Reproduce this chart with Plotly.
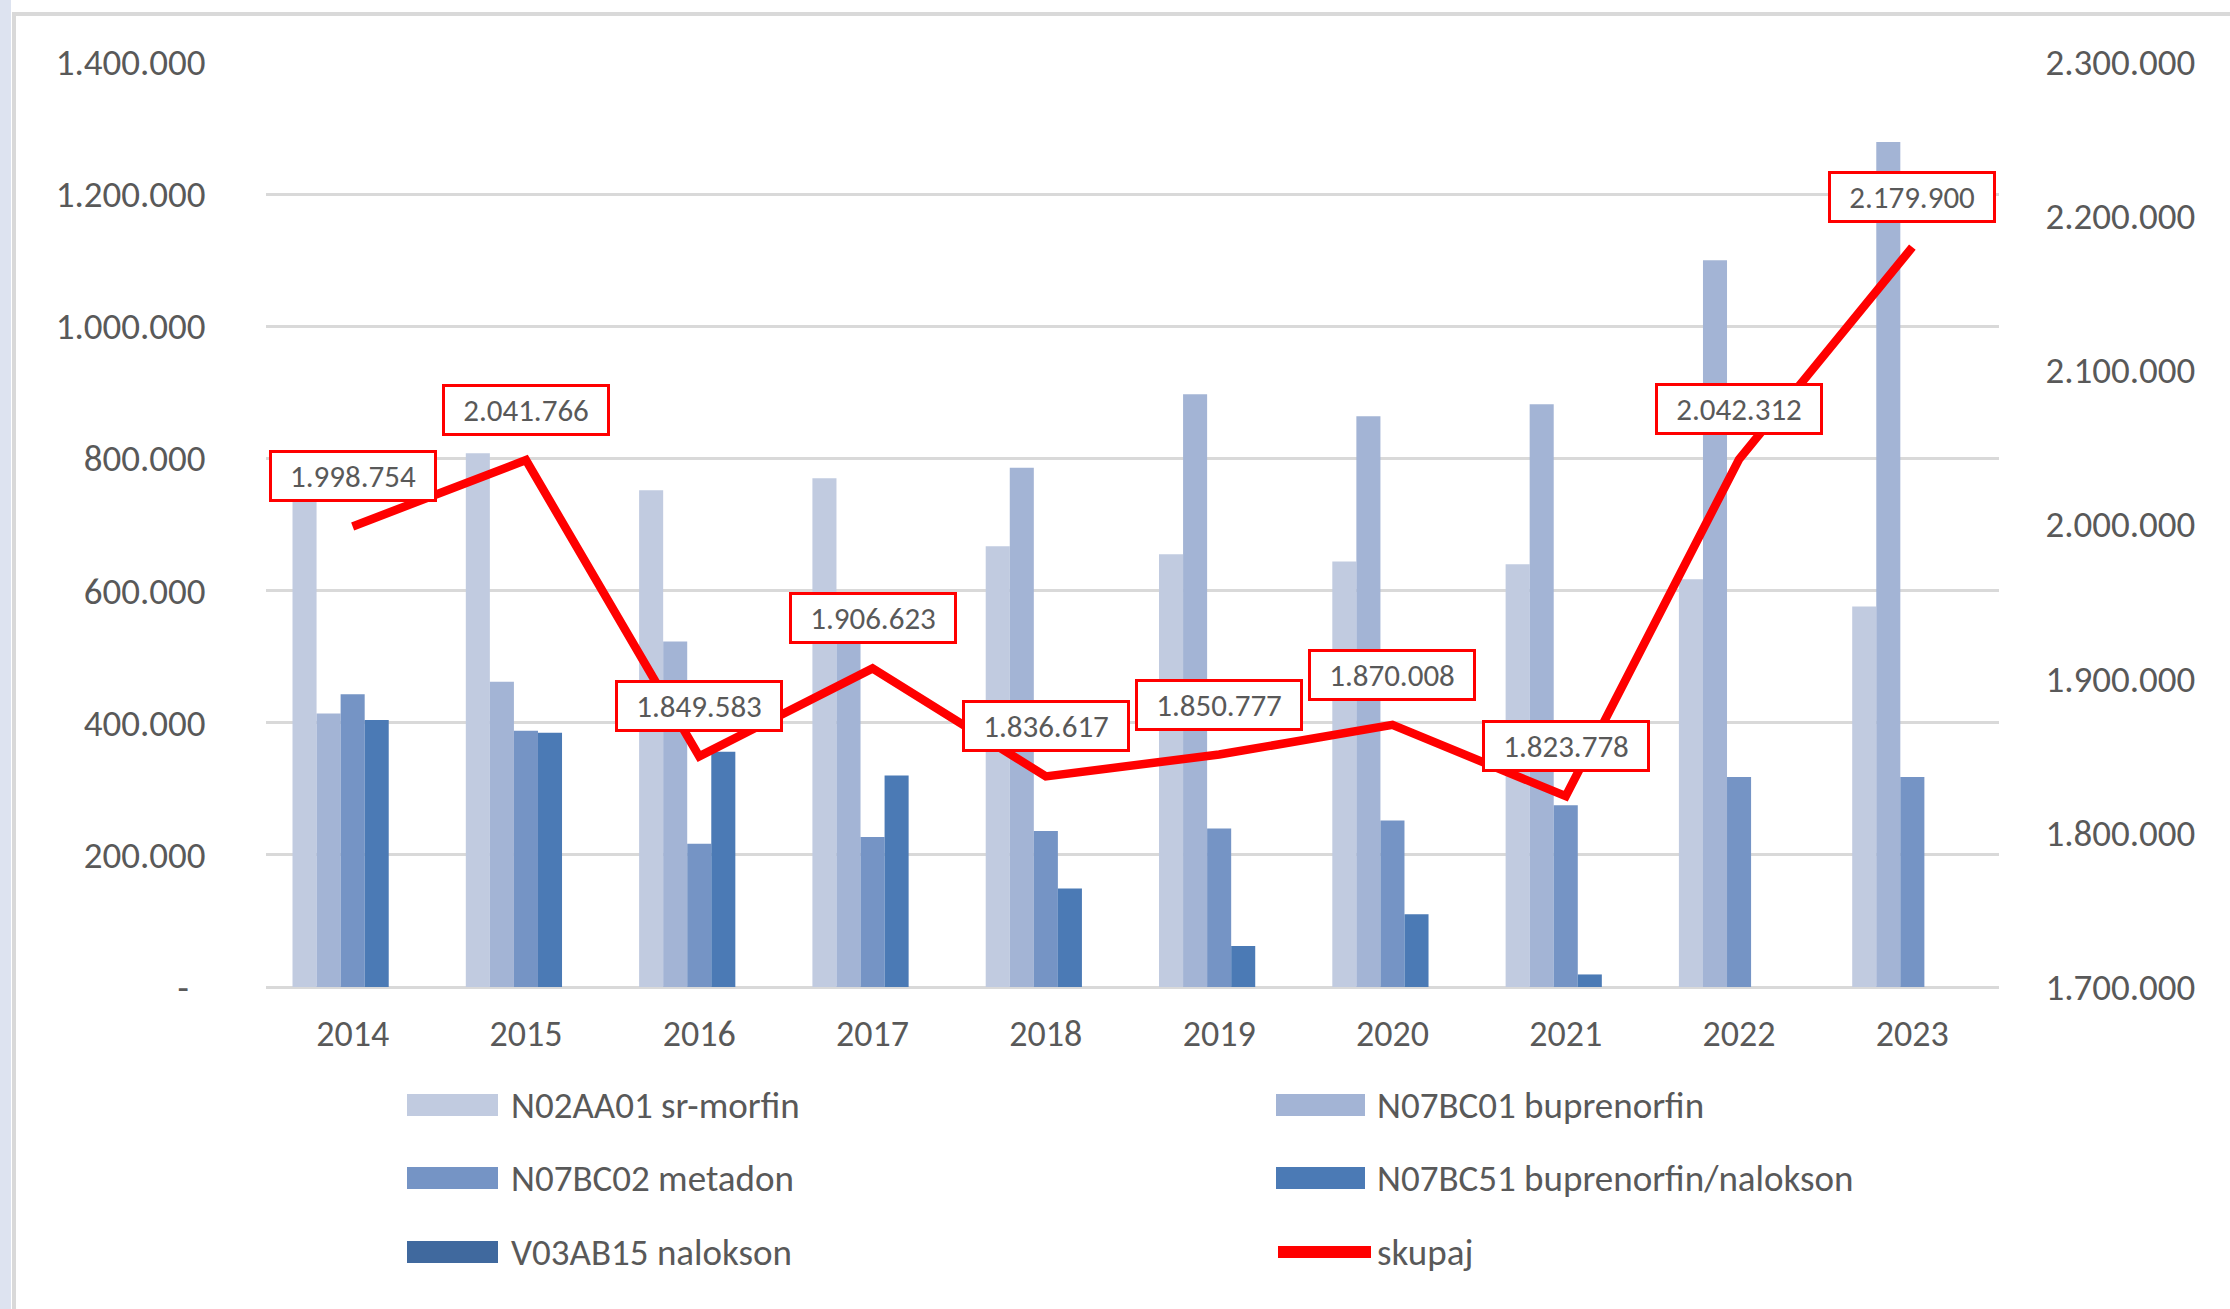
import plotly.graph_objects as go

years = ["2014", "2015", "2016", "2017", "2018", "2019", "2020", "2021", "2022", "2023"]

seriesNames = [
    "N02AA01 sr-morfin",
    "N07BC01 buprenorfin",
    "N07BC02 metadon",
    "N07BC51 buprenorfin/nalokson",
    "V03AB15 nalokson",
]
totalName = "skupaj"

srMorfin = [740000, 808000, 752000, 770000, 667000, 655000, 644000, 640000, 617000, 576000]
buprenorfin = [414000, 462000, 523000, 585000, 786000, 897000, 864000, 882000, 1100000, 1279000]
metadon = [443000, 388000, 217000, 227000, 236000, 240000, 252000, 275000, 318000, 318000]
bupNalokson = [404000, 385000, 356000, 320000, 149000, 62000, 110000, 19000, 0, 0]
nalokson = [0, 0, 0, 0, 0, 0, 0, 0, 0, 0]
skupaj = [1998754, 2041766, 1849583, 1906623, 1836617, 1850777, 1870008, 1823778, 2042312, 2179900]

leftTicks = [0, 200000, 400000, 600000, 800000, 1000000, 1200000, 1400000]
rightTicks = [1700000, 1800000, 1900000, 2000000, 2100000, 2200000, 2300000]

seriesColors = ["#C1CBE0", "#A3B4D5", "#7594C5", "#4B7AB5", "#40699E"]
lineColor = "#FF0000"
textColor = "#595959"
gridColor = "#D9D9D9"
fontFamily = "Calibri, Carlito, 'Liberation Sans', Arial, sans-serif"

W, H = 2230, 1309
ML, MR, MT, MB = 266, 231, 62, 322
plotW = W - ML - MR
plotH = H - MT - MB


def fmt(v):
    # Slovenian style thousands separator
    return f"{v:,}".replace(",", ".")


def px_x(px):
    return (px - ML) / plotW


def px_y(py):
    return (H - MB - py) / plotH


fig = go.Figure()

seriesValues = [srMorfin, buprenorfin, metadon, bupNalokson, nalokson]
for name, vals, color in zip(seriesNames, seriesValues, seriesColors):
    fig.add_trace(
        go.Bar(
            x=years,
            y=vals,
            name=name,
            marker_color=color,
            marker_line_width=0,
            showlegend=False,
        )
    )

fig.add_trace(
    go.Scatter(
        x=years,
        y=skupaj,
        yaxis="y2",
        mode="lines",
        name=totalName,
        line=dict(color=lineColor, width=8.5),
        showlegend=False,
    )
)

# Boxed data labels above the total line (category axis -> use index)
annotations = []
for i, v in enumerate(skupaj):
    annotations.append(
        dict(
            x=i,
            y=v,
            xref="x",
            yref="y2",
            text=fmt(v),
            showarrow=False,
            yshift=50,
            xanchor="center",
            yanchor="middle",
            width=158,
            height=42,
            borderpad=2,
            bordercolor=lineColor,
            borderwidth=3,
            bgcolor="white",
            font=dict(size=31, color=textColor, family=fontFamily),
        )
    )

# Legend drawn by hand (two columns, wide swatches)
shapes = []
legendCols = [(407, 498, 509), (1276, 1365, 1375)]
legendRows = [1105, 1178, 1252]
legendItems = list(zip(seriesNames, seriesColors)) + [(totalName, lineColor)]
for i, (name, color) in enumerate(legendItems):
    r, c = divmod(i, 2)
    sx0, sx1, tx = legendCols[c]
    cy = legendRows[r]
    if name == totalName:
        shapes.append(
            dict(type="line", xref="paper", yref="paper",
                 x0=px_x(sx0 + 2), x1=px_x(sx1 + 6), y0=px_y(cy), y1=px_y(cy),
                 line=dict(color=color, width=12))
        )
    else:
        shapes.append(
            dict(type="rect", xref="paper", yref="paper",
                 x0=px_x(sx0), x1=px_x(sx1), y0=px_y(cy - 11), y1=px_y(cy + 11),
                 fillcolor=color, line=dict(width=0))
        )
    annotations.append(
        dict(x=px_x(tx), y=px_y(cy), xref="paper", yref="paper",
             text=name, showarrow=False, xanchor="left", yanchor="middle",
             font=dict(size=37, color=textColor, family=fontFamily))
    )

# Outer frame and tinted strip on the left
shapes.append(
    dict(type="rect", xref="paper", yref="paper", layer="below",
         x0=px_x(0), x1=px_x(11), y0=px_y(0), y1=px_y(H + 10),
         fillcolor="#DDE3F0", line=dict(width=0))
)
shapes.append(
    dict(type="rect", xref="paper", yref="paper", layer="below",
         x0=px_x(14), x1=px_x(W + 20), y0=px_y(14), y1=px_y(H + 20),
         fillcolor="rgba(0,0,0,0)", line=dict(color=gridColor, width=4))
)

leftText = [fmt(v) if v else "-\u00a0\u00a0" for v in leftTicks]

fig.update_layout(
    width=W,
    height=H,
    margin=dict(l=ML, r=MR, t=MT, b=MB),
    paper_bgcolor="white",
    plot_bgcolor="white",
    barmode="group",
    bargap=0.306,
    bargroupgap=0,
    font=dict(family=fontFamily, color=textColor, size=36),
    annotations=annotations,
    shapes=shapes,
    xaxis=dict(
        type="category",
        range=[-0.5, len(years) - 0.5],
        showgrid=False,
        showline=False,
        ticks="outside",
        ticklen=15,
        tickcolor="rgba(0,0,0,0)",
        tickfont=dict(size=36, color=textColor),
    ),
    yaxis=dict(
        range=[0, 1400000],
        tickvals=leftTicks,
        ticktext=leftText,
        showgrid=True,
        gridcolor=gridColor,
        gridwidth=3,
        zeroline=True,
        zerolinecolor=gridColor,
        zerolinewidth=3,
        ticks="outside",
        ticklen=52,
        tickcolor="rgba(0,0,0,0)",
        tickfont=dict(size=37, color=textColor),
    ),
    yaxis2=dict(
        range=[1700000, 2300000],
        tickvals=rightTicks,
        ticktext=[fmt(v) for v in rightTicks],
        overlaying="y",
        side="right",
        showgrid=False,
        zeroline=False,
        ticks="outside",
        ticklen=38,
        tickcolor="rgba(0,0,0,0)",
        tickfont=dict(size=37, color=textColor),
    ),
)

fig.write_html(
    "out.html",
    config={"displayModeBar": False},
    post_script="document.body.style.margin='0';",
)
